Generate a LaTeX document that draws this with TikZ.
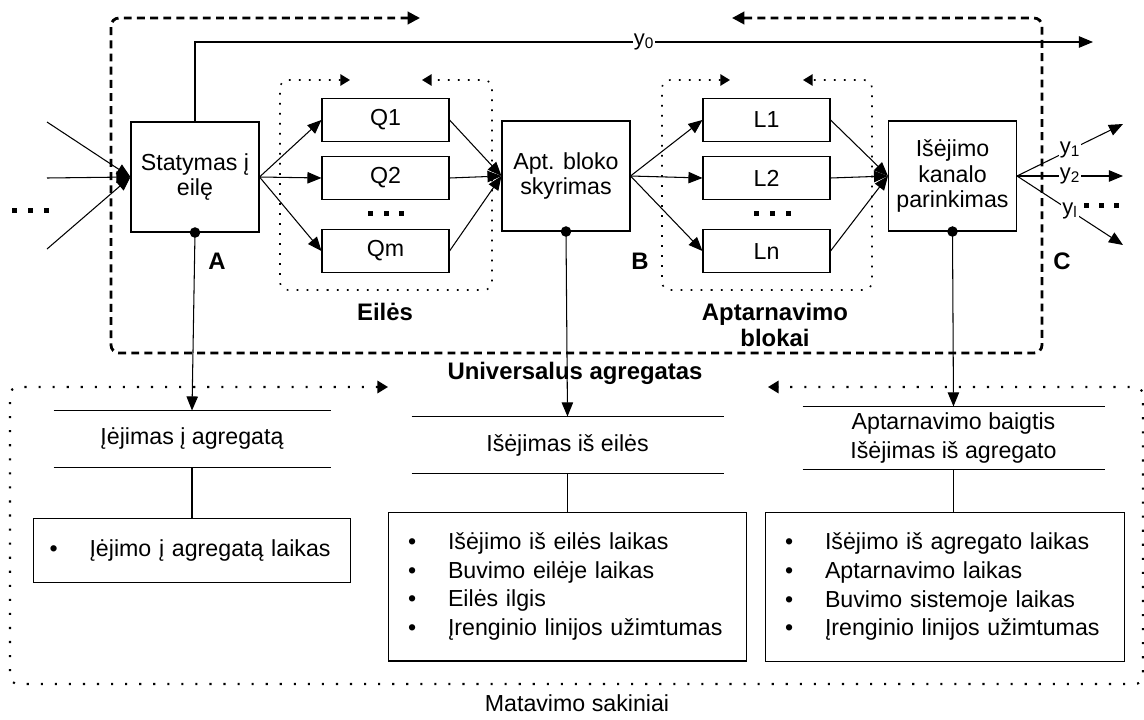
\documentclass[tikz,border=0pt]{standalone}
\usepackage{fontspec}
\setmainfont{Liberation Sans}
\usepackage{tikz}
\usetikzlibrary{positioning,shapes,arrows,arrows.meta}
\tikzstyle{BlockNode}=[rectangle, draw=black, minimum width=2.56cm, minimum height=2.2cm, align=center, font=\fontsize{13.2}{14.4}\selectfont]
\tikzstyle{QueueNode}=[rectangle, draw=black, minimum width=2.54cm, minimum height=0.86cm, font=\fontsize{13.2}{14.4}\selectfont]
\tikzstyle{EventNode}=[rectangle, minimum height=1.12cm, align=center, font=\fontsize{13.2}{16.4}\selectfont]
\tikzstyle{ListNode}=[rectangle, draw=black, align=left, font=\fontsize{13.2}{16.4}\selectfont]
\tikzstyle{DotNode}=[circle, fill=black, inner sep=0pt, minimum size=6pt]
\tikzstyle{LabelNode}=[font=\fontsize{13.6}{15}\selectfont\bfseries, align=center]
\tikzstyle{OutLabel}=[fill=white, inner sep=0.6pt, font=\fontsize{12.5}{13}\selectfont]
\tikzstyle{DashedFrame}=[dash pattern=on 4.5pt off 3pt, line width=1.6pt, rounded corners=0.16cm, arrows={Triangle[length=7pt,width=7pt]-Triangle[length=7pt,width=7pt]}]
\tikzstyle{DottedFrame}=[dash pattern=on 1pt off 4.7pt, line width=0.9pt, rounded corners=0.16cm, arrows={Triangle[length=5.5pt,width=6.5pt]-Triangle[length=5.5pt,width=6.5pt]}]
\tikzstyle{OuterFrame}=[dash pattern=on 1.2pt off 6.8pt, line width=1.2pt, rounded corners=0.16cm, arrows={Triangle[length=6pt,width=7pt]-Triangle[length=6pt,width=7pt]}]
\newcommand{\ListItem}[1]{\makebox[0.8cm][l]{\textbullet}#1}

\begin{document}
\begin{tikzpicture}[x=0.02cm, y=-0.02cm, line width=0.6pt, >={Triangle[length=8pt,width=6.5pt]}]
      \useasboundingbox (0,0) rectangle (1144,720);
      \draw[DashedFrame] (420,18) -- (111,18) -- (111,353) -- (1042,353) -- (1042,18) -- (732,18);
      \draw[DottedFrame] (350,80) -- (280,80) -- (280,290) -- (492,290) -- (492,80) -- (422,80);
      \draw[DottedFrame] (730,80) -- (662,80) -- (662,290) -- (872,290) -- (872,80) -- (803,80);
      \draw[OuterFrame] (388,387) -- (10,387) -- (10,684) -- (1143,684) -- (1143,387) -- (768,387);

      \node[BlockNode] (Stat) at (195,177) {Statymas į\\eilę};
      \node[BlockNode] (Apt) at (566,176) {Apt. bloko\\skyrimas};
      \node[BlockNode] (Isej) at (952.5,176) {Išėjimo\\kanalo\\parinkimas};

      \node[QueueNode] (Q2) at (385.5,178) {Q2};
      \node[QueueNode] (Q1) [above=0.28cm of Q2] {Q1};
      \node[QueueNode] (Qm) [below=0.58cm of Q2] {Qm};
      \node[QueueNode] (L2) at (766.5,178) {L2};
      \node[QueueNode] (L1) [above=0.28cm of L2] {L1};
      \node[QueueNode] (Ln) [below=0.58cm of L2] {Ln};

      \coordinate (In1) at (47,122);
      \coordinate (In2) at (47,178);
      \coordinate (In3) at (47,249);
      \coordinate (Y0) at (1093,42);
      \coordinate (Y1) at (1123,124);
      \coordinate (Y2) at (1123,176);
      \coordinate (Yl) at (1123,245);

      \foreach \x in {14,30,46} \fill (\x-2.5,207.5) rectangle ++(5,5);
      \foreach \x in {370,386,401} \fill (\x-2.5,210.5) rectangle ++(5,5);
      \foreach \x in {756,772,788} \fill (\x-2.5,210.5) rectangle ++(5,5);
      \foreach \x in {1086,1101,1116} \fill (\x-2.5,202.5) rectangle ++(5,5);

      \draw[->] (In1) -- (Stat.west);
      \draw[->] (In2) -- (Stat.west);
      \draw[->] (In3) -- (Stat.west);
      \draw[->] (Stat.east) -- (Q1.west);
      \draw[->] (Stat.east) -- (Q2.west);
      \draw[->] (Stat.east) -- (Qm.west);
      \draw[->] (Q1.east) -- (Apt.west);
      \draw[->] (Q2.east) -- (Apt.west);
      \draw[->] (Qm.east) -- (Apt.west);
      \draw[->] (Apt.east) -- (L1.west);
      \draw[->] (Apt.east) -- (L2.west);
      \draw[->] (Apt.east) -- (Ln.west);
      \draw[->] (L1.east) -- (Isej.west);
      \draw[->] (L2.east) -- (Isej.west);
      \draw[->] (Ln.east) -- (Isej.west);
      \draw[->] (Stat.north) |- node[OutLabel, pos=0.75] {y\textsubscript{0}} (Y0);
      \draw[->] (Isej.east) -- node[OutLabel, midway] {y\textsubscript{1}} (Y1);
      \draw[->] (Isej.east) -- node[OutLabel, midway] {y\textsubscript{2}} (Y2);
      \draw[->] (Isej.east) -- node[OutLabel, midway] {y\textsubscript{l}} (Yl);

      \node[LabelNode] (LA) at (217,261) {A};
      \node[LabelNode] (LB) at (640,261) {B};
      \node[LabelNode] (LC) at (1062,261) {C};
      \node[LabelNode] (LEil) at (385,312) {Eilės};
      \node[LabelNode] (LApt) at (775,325) {Aptarnavimo\\blokai};
      \node[LabelNode] (LUni) at (575,373) {Universalus agregatas};
      \node[font=\fontsize{13.2}{15}\selectfont] (LMat) at (577,703) {Matavimo sakiniai};

      \node[EventNode, minimum width=5.52cm] (E1) at (192,439) {Įėjimas į agregatą};
      \node[EventNode, minimum width=6.22cm] (E2) at (567.5,445) {Išėjimas iš eilės};
      \node[EventNode, minimum width=6.02cm] (E3) at (953.5,438) {Aptarnavimo baigtis\\Išėjimas iš agregato};
      \draw (E1.north west) -- (E1.north east);
      \draw (E1.south west) -- (E1.south east);
      \draw (E2.north west) -- (E2.north east);
      \draw (E2.south west) -- (E2.south east);
      \draw (E3.north west) -- (E3.north east);
      \draw (E3.south west) -- (E3.south east);

      \node[ListNode, inner xsep=0.32cm, text width=5.7cm, minimum height=1.28cm] (M1) [below=1cm of E1] {\ListItem{Įėjimo į agregatą laikas}};
      \node[ListNode, inner xsep=0.4cm, text width=6.38cm, minimum height=2.98cm] (M2) [below=0.76cm of E2] {\ListItem{Išėjimo iš eilės laikas}\\\ListItem{Buvimo eilėje laikas}\\\ListItem{Eilės ilgis}\\\ListItem{Įrenginio linijos užimtumas}};
      \node[ListNode, inner xsep=0.4cm, text width=6.4cm, minimum height=2.98cm] (M3) [below=0.84cm of E3, xshift=-0.17cm] {\ListItem{Išėjimo iš agregato laikas}\\\ListItem{Aptarnavimo laikas}\\\ListItem{Buvimo sistemoje laikas}\\\ListItem{Įrenginio linijos užimtumas}};
      \draw (E1.south) -- (E1.south |- M1.north);
      \draw (E2.south) -- (E2.south |- M2.north);
      \draw (E3.south) -- (E3.south |- M3.north);

      \node[DotNode] (DA) at (Stat.south) {};
      \node[DotNode] (DB) at (Apt.south) {};
      \node[DotNode] (DC) at (Isej.south) {};
      \draw[->] (DA.center) -- (E1.north);
      \draw[->] (DB.center) -- (E2.north);
      \draw[->] (DC.center) -- (E3.north);
    \end{tikzpicture}
\end{document}
